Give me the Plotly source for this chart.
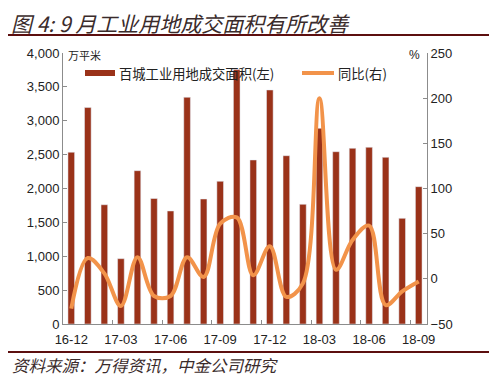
import plotly.graph_objects as go

months = ["16-12", "17-01", "17-02", "17-03", "17-04", "17-05", "17-06", "17-07",
          "17-08", "17-09", "17-10", "17-11", "17-12", "18-01", "18-02", "18-03",
          "18-04", "18-05", "18-06", "18-07", "18-08", "18-09"]
area = [2535, 3195, 1760, 964, 2263, 1852, 1668, 3346, 1845, 2106, 3755,
        2421, 3454, 2484, 1767, 2888, 2543, 2593, 2608, 2460, 1560, 2027]
yoy = [-33, 23, 6, -30, 24, -19, -19, 24, 2, 61, 68,
       4, 36, -20, -5, 200, 10, 43, 59, -29, -14, -3]
tick_labels = ["16-12", "17-03", "17-06", "17-09", "17-12", "18-03", "18-06", "18-09"]

bar_color = "#9A3219"
line_color = "#F2934A"
axis_color = "#8C8C8C"
# page body has an 8px margin: the figure is offset by 8px
OFF = 8
W, H = 497 - OFF, 376 - OFF
# plot area in page pixels: x 63..427, y 53..324
PX0, PX1, PY0, PY1 = 63, 427, 53, 324
ml, mr, mt, mb = PX0 - OFF, W - (PX1 - OFF), PY0 - OFF, H - (PY1 - OFF)
pw, ph = PX1 - PX0, PY1 - PY0


def px(x):
    return (x - PX0) / pw


def py(y):
    return (PY1 - y) / ph


fig = go.Figure()
fig.add_trace(go.Bar(x=months, y=area, marker_color=bar_color, name="百城工业用地成交面积(左)",
                     showlegend=False))
fig.add_trace(go.Scatter(x=months, y=yoy, yaxis="y2", mode="lines",
                         line=dict(color=line_color, width=4, shape="spline", smoothing=1.0),
                         name="同比(右)", showlegend=False))

tickfont = dict(family="Liberation Sans, Arial", size=13, color="#222")
fig.update_layout(
    width=W, height=H,
    margin=dict(l=ml, r=mr, t=mt, b=mb, autoexpand=False),
    paper_bgcolor="white", plot_bgcolor="white",
    bargap=0.6,
    xaxis=dict(type="category", tickmode="array", tickvals=tick_labels, ticktext=tick_labels,
               tickson="boundaries", ticks="inside", ticklen=4, tickcolor=axis_color,
               showline=True, linecolor=axis_color, linewidth=1, showgrid=False,
               tickangle=0, automargin=False, ticklabelstandoff=3,
               tickfont=tickfont, range=[-0.5, len(months) - 0.5]),
    yaxis=dict(range=[0, 4000], dtick=500, tickformat=",", ticks="inside", ticklen=4,
               tickcolor=axis_color, showline=True, linecolor=axis_color, linewidth=1,
               showgrid=False, zeroline=False, tickfont=tickfont, automargin=False),
    yaxis2=dict(range=[-50, 250], dtick=50, overlaying="y", side="right", ticks="inside",
                ticklen=4, tickcolor=axis_color, showline=True, linecolor=axis_color,
                linewidth=1, showgrid=False, zeroline=False, tickfont=tickfont,
                automargin=False),
)

cjk = "Noto Sans CJK SC"
ann = []
ann.append(dict(text="<i>图 4: 9 月工业用地成交面积有所改善</i>", x=px(9), y=py(23), xref="paper",
                yref="paper", xanchor="left", yanchor="middle", showarrow=False,
                font=dict(family=cjk, size=21, color="#3a2b2b")))
ann.append(dict(text="<i>资料来源：万得资讯，中金公司研究</i>", x=px(10), y=py(365), xref="paper",
                yref="paper", xanchor="left", yanchor="middle", showarrow=False,
                font=dict(family=cjk, size=16.5, color="#3a2b2b")))
ann.append(dict(text="万平米", x=px(66), y=py(55), xref="paper", yref="paper", xanchor="left",
                yanchor="middle", showarrow=False, font=dict(family=cjk, size=11, color="#222")))
ann.append(dict(text="%", x=px(422), y=py(55), xref="paper", yref="paper", xanchor="right",
                yanchor="middle", showarrow=False,
                font=dict(family="Liberation Sans, Arial", size=12, color="#222")))
ann.append(dict(text="百城工业用地成交面积(左)", x=px(117), y=py(73), xref="paper", yref="paper",
                xanchor="left", yanchor="middle", showarrow=False,
                font=dict(family=cjk, size=13.3, color="#222")))
ann.append(dict(text="同比(右)", x=px(336), y=py(73), xref="paper", yref="paper",
                xanchor="left", yanchor="middle", showarrow=False,
                font=dict(family=cjk, size=13.3, color="#222")))

shapes = []
shapes.append(dict(type="line", xref="paper", yref="paper", x0=px(5), x1=px(490), y0=py(35),
                   y1=py(35), line=dict(color="#5C0F0F", width=2)))
shapes.append(dict(type="line", xref="paper", yref="paper", x0=px(5), x1=px(490), y0=py(352),
                   y1=py(352), line=dict(color="#5C0F0F", width=2)))
shapes.append(dict(type="rect", xref="paper", yref="paper", x0=px(85), x1=px(115), y0=py(76),
                   y1=py(70), line=dict(width=0), fillcolor=bar_color))
shapes.append(dict(type="line", xref="paper", yref="paper", x0=px(302), x1=px(334), y0=py(73),
                   y1=py(73), line=dict(color=line_color, width=4)))

fig.update_layout(annotations=ann, shapes=shapes)
fig.write_html("out.html")
